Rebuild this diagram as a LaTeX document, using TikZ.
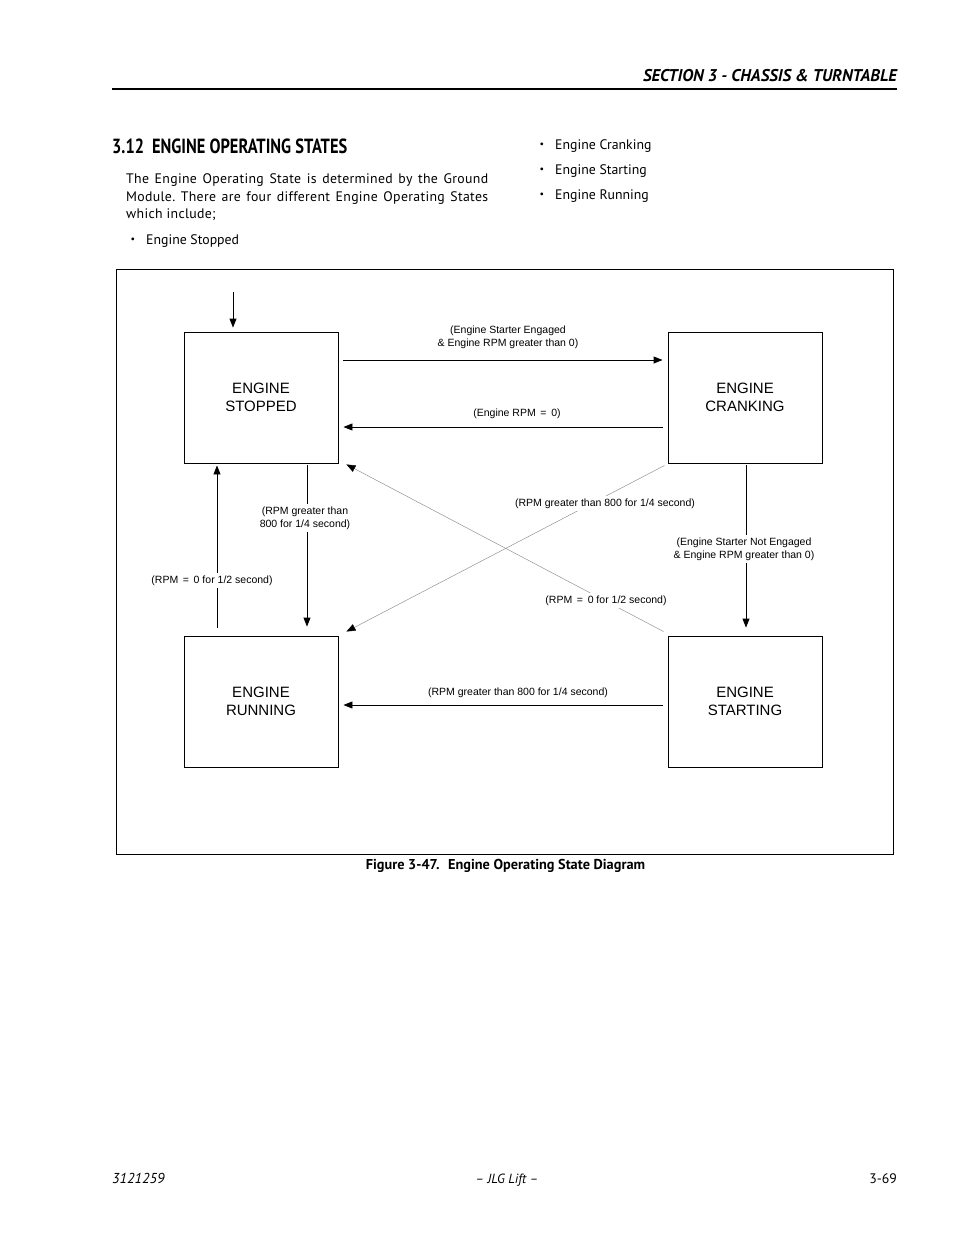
\documentclass[tikz,border=0pt]{standalone}
\usepackage{fontspec}
\setmainfont{PT Sans}
\newfontfamily\arialf{Liberation Sans}
\newfontfamily\headf{PT Sans}[FakeStretch=0.80]
\newfontfamily\secf{PT Sans}[FakeStretch=0.99]
\newfontfamily\parf{PT Sans}[LetterSpace=2.3]
\usetikzlibrary{arrows.meta,calc}
\frenchspacing
\begin{document}
\begin{tikzpicture}[x=1pt,y=-1pt,
  state/.style={draw,line width=0.9pt,minimum width=154pt,minimum height=131pt,inner sep=0pt,
    font=\arialf\fontsize{15}{18.5}\selectfont,align=center},
  arr/.style={line width=0.9pt,-{Triangle[length=9pt,width=7pt]}},
  diag/.style={draw=black!45,line width=0.45pt,-{Triangle[length=9pt,width=7pt,color=black]}},
  lbl/.style={fill=white,font=\arialf\fontsize{10.5}{13}\selectfont,align=center,inner sep=2.5pt},
  txt/.style={anchor=base west,inner sep=0pt,font=\fontsize{13.8}{18}\selectfont},
  ptxt/.style={anchor=base west,inner sep=0pt,font=\parf\fontsize{13.8}{18}\selectfont},
  bul/.style={anchor=base,inner sep=0pt,font=\fontsize{10}{10}\selectfont}
]
\fill[white] (0,0) rectangle (954,1235);
\useasboundingbox (0,0) rectangle (954,1235);

% header
\node[anchor=base east,inner sep=0pt,font=\secf\bfseries\itshape\fontsize{17}{20}\selectfont] (hdr) at (897,81) {SECTION 3 - CHASSIS \& TURNTABLE};
\draw[line width=1.1pt] (112,89) -- (897,89);

% title and text
\node[anchor=base west,inner sep=0pt,font=\headf\bfseries\fontsize{20.5}{24}\selectfont] (title) at (112,153) {3.12\hspace{8pt}ENGINE OPERATING STATES};
\node[ptxt] (p1) at (126,183) {\hbox to 362pt{The Engine Operating State is determined by the Ground}};
\node[ptxt] (p2) at (126,201) {\hbox to 362pt{Module. There are four different Engine Operating States}};
\node[ptxt] (p3) at (126,218) {which include;};
\node[bul] (b1) at (133,242) {•};
\node[txt] (t1) at (146,244) {Engine Stopped};
\node[bul] (b2) at (542,147) {•};
\node[txt] (t2) at (555,149) {Engine Cranking};
\node[bul] (b3) at (542,172) {•};
\node[txt] (t3) at (555,174) {Engine Starting};
\node[bul] (b4) at (542,197) {•};
\node[txt] (t4) at (555,199) {Engine Running};

% frame
\draw[line width=0.9pt] (116,269) rectangle (893,854);

% states
\node[state] (stop)  at (261,397.5) {ENGINE\\STOPPED};
\node[state] (crank) at (745,397.5) {ENGINE\\CRANKING};
\node[state] (run)   at (261,701.5) {ENGINE\\RUNNING};
\node[state] (start) at (745,701.5) {ENGINE\\STARTING};

% initial arrow
\coordinate (init) at (233,292);
\draw[arr] (init) -- ([shift={(-28,-4)}]stop.north);

% horizontal arrows
\draw[arr] ([shift={(5,-37.5)}]stop.east) -- ([shift={(-5,-37.5)}]crank.west);
\draw[arr] ([shift={(-5,29.5)}]crank.west) -- ([shift={(5,29.5)}]stop.east);
\draw[arr] ([shift={(-5,3.5)}]start.west) -- ([shift={(5,3.5)}]run.east);

% vertical arrows
\draw[arr] ([shift={(46,2)}]stop.south) -- ([shift={(46,-9)}]run.north);
\draw[arr] ([shift={(-44,-8)}]run.north) -- ([shift={(-44,2)}]stop.south);
\draw[arr] ([shift={(1,2)}]crank.south) -- ([shift={(1,-8)}]start.north);

% diagonal arrows
\draw[diag] ([shift={(-3,2)}]crank.south west) -- ([shift={(8,-4)}]run.north east);
\draw[diag] ([shift={(-4,-4)}]start.north west) -- ([shift={(8,1)}]stop.south east);

% labels
\node[lbl,fill=none] (l1) at (508,337) {(Engine Starter Engaged\\\& Engine RPM greater than 0)};
\node[lbl,fill=none] (l2) at (517,413.5) {(Engine RPM \,=\, 0)};
\node[lbl,fill=none] (l3) at (518,692.5) {(RPM greater than 800 for 1/4 second)};
\node[lbl] (l4) at (305,518) {(RPM greater than\\800 for 1/4 second)};
\node[lbl] (l5) at (212,580.5) {(RPM \,=\, 0 for 1/2 second)};
\node[lbl] (l6) at (744,549) {(Engine Starter Not Engaged\\\& Engine RPM greater than 0)};
\node[lbl] (l7) at (605,503.5) {(RPM greater than 800 for 1/4 second)};
\node[lbl] (l8) at (606,600.5) {(RPM \,=\, 0 for 1/2 second)};

% caption
\node[anchor=base,inner sep=0pt,font=\bfseries\fontsize{14.3}{16}\selectfont] (cap) at (505.5,869) {Figure 3-47.\hspace{5pt} Engine Operating State Diagram};

% footer
\node[anchor=base west,inner sep=0pt,font=\itshape\fontsize{14.4}{16}\selectfont] (f1) at (112,1183) {3121259};
\node[anchor=base,inner sep=0pt,font=\itshape\fontsize{13.3}{16}\selectfont] (f2) at (507,1183) {– JLG Lift –};
\node[anchor=base east,inner sep=0pt,font=\fontsize{13.8}{16}\selectfont] (f3) at (897,1183) {3-69};
\end{tikzpicture}
\end{document}
